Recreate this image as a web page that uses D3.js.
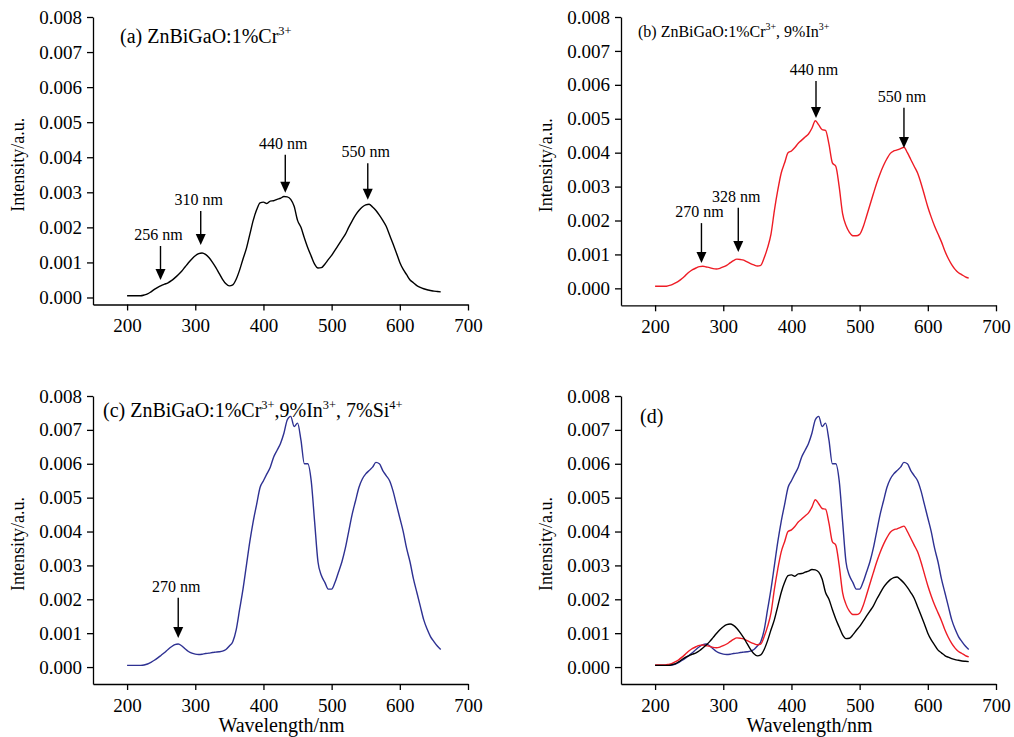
<!DOCTYPE html>
<html>
<head>
<meta charset="utf-8">
<script src="https://cdn.jsdelivr.net/npm/d3@7"></script>
<style>
  body { margin: 0; background: #fff; }
  svg { display: block; }
  text { font-family: "Liberation Serif", "Times New Roman", serif; fill: #000; }
</style>
</head>
<body>
<svg id="chart" width="1014" height="737"></svg>
<script>
// Excitation spectra, sampled every 5 nm from 200 to 660 nm
const wavelengths = d3.range(200, 661, 5);

const cr = [
  0.00005, 0.00005, 0.00005, 0.00005, 0.00005, 0.00007, 0.0001, 0.00016, 0.00023, 0.00029,
  0.00034, 0.00038, 0.00042, 0.00048, 0.00056, 0.00065, 0.00075, 0.00087, 0.00099, 0.0011,
  0.00119, 0.00125, 0.00127, 0.00123, 0.00114, 0.00101, 0.00086, 0.00069, 0.00052, 0.00039,
  0.00033, 0.00036, 0.00052, 0.00078, 0.0011, 0.0014, 0.0018, 0.0022, 0.0025, 0.0027,
  0.00272, 0.00268, 0.00275, 0.00276, 0.0028, 0.00283, 0.00288, 0.00287, 0.0028, 0.0026,
  0.0022, 0.002, 0.0017, 0.00142, 0.00118, 0.00095, 0.00084, 0.00085, 0.00095, 0.00108,
  0.0012, 0.00135, 0.0015, 0.00165, 0.0018, 0.002, 0.00218, 0.00235, 0.00248, 0.00258,
  0.00264, 0.00266, 0.00258, 0.00248, 0.00235, 0.0022, 0.00203, 0.00178, 0.00153, 0.00127,
  0.001, 0.0008, 0.00065, 0.0005, 0.00042, 0.00034, 0.00029, 0.00025, 0.00022, 0.0002,
  0.00018, 0.00017, 0.00016
];

const crIn = [
  0.00006, 0.00006, 0.00006, 0.00006, 0.00008, 0.00011, 0.00016, 0.00022, 0.0003, 0.00039,
  0.00048, 0.00055, 0.0006, 0.00064, 0.00065, 0.00063, 0.00061, 0.00058, 0.00057, 0.00059,
  0.00063, 0.00068, 0.00075, 0.00082, 0.00086, 0.00085, 0.00083, 0.00078, 0.00073, 0.00069,
  0.00066, 0.00068, 0.0009, 0.0012, 0.0016, 0.0023, 0.0029, 0.0034, 0.0037, 0.004,
  0.00405, 0.00415, 0.00428, 0.00437, 0.00446, 0.00455, 0.00472, 0.00494, 0.00482, 0.00468,
  0.00466, 0.00425, 0.0037, 0.0036, 0.003, 0.0022, 0.00185, 0.00165, 0.00155, 0.00155,
  0.00159, 0.0018, 0.00212, 0.00245, 0.00278, 0.0031, 0.00338, 0.00362, 0.00382, 0.00398,
  0.00405, 0.00408, 0.00412, 0.00416, 0.004, 0.0038, 0.0036, 0.0034, 0.0031, 0.00275,
  0.0024, 0.0021, 0.00183, 0.0016, 0.00137, 0.0011, 0.00088, 0.0007, 0.00056, 0.00046,
  0.0004, 0.00034, 0.0003
];

const crInSi = [
  0.00005, 0.00005, 0.00005, 0.00005, 0.00005, 0.00006, 0.00009, 0.00014, 0.0002, 0.00027,
  0.00035, 0.00043, 0.00052, 0.0006, 0.00066, 0.00068, 0.00063, 0.00054, 0.00046, 0.00041,
  0.00038, 0.00037, 0.00038, 0.0004, 0.00041, 0.00043, 0.00044, 0.00045, 0.00047, 0.00052,
  0.00062, 0.00075, 0.0011, 0.0017, 0.0023, 0.003, 0.0037, 0.0043, 0.0048, 0.0053,
  0.0055, 0.0057, 0.0059, 0.0062, 0.0064, 0.0066, 0.0069, 0.0073, 0.0074, 0.0071,
  0.0072, 0.0067, 0.006, 0.006, 0.0055, 0.0043, 0.0031, 0.0027, 0.0025, 0.0023,
  0.0023, 0.0025, 0.0028, 0.0031, 0.0035, 0.004, 0.0045, 0.0049, 0.0053, 0.00555,
  0.0057, 0.0058, 0.0059, 0.00604, 0.006, 0.0058, 0.00565, 0.0055, 0.0052, 0.0048,
  0.0044, 0.004, 0.0035, 0.0031, 0.0026, 0.0022, 0.0018, 0.0014, 0.00112, 0.0009,
  0.00075, 0.00062, 0.00052
];

const xTicks = [200, 300, 400, 500, 600, 700];
const yTicks = [0, 0.001, 0.002, 0.003, 0.004, 0.005, 0.006, 0.007, 0.008];

// Peak markers: [label, wavelength, label value, arrow-tip value]
const peaksA = [
  ["256 nm", 249, 0.00164, 0.0005],
  ["310 nm", 308, 0.00264, 0.0015],
  ["440 nm", 432, 0.00424, 0.00299],
  ["550 nm", 553, 0.0040, 0.00279]
];
const peaksB = [
  ["270 nm", 268, 0.0021, 0.00075],
  ["328 nm", 322, 0.00255, 0.00107],
  ["440 nm", 436, 0.00629, 0.00502],
  ["550 nm", 565, 0.0055, 0.00414]
];
const peaksC = [
  ["270 nm", 275, 0.00222, 0.00086]
];

const colors = { cr: "#000000", crIn: "#ee1c25", crInSi: "#2e3192" };

const svg = d3.select("#chart");
svg.append("rect").attr("width", 1014).attr("height", 737).attr("fill", "#fff");

const panels = [
  { left: 93, right: 468, top: 17, bottom: 304.5, yMin: -0.0002,
    series: [["cr", cr]], peaks: peaksA, xLabel: false,
    title: { x: 120, y: 43, size: 20, parts: [["(a) ZnBiGaO:1%Cr"], ["3+", 1]] } },
  { left: 621, right: 996, top: 17, bottom: 305.3, yMin: -0.0005,
    series: [["crIn", crIn]], peaks: peaksB, xLabel: false,
    title: { x: 638, y: 37, size: 16, parts: [["(b) ZnBiGaO:1%Cr"], ["3+", 1], [", 9%In"], ["3+", 1]] } },
  { left: 93, right: 468, top: 396, bottom: 684, yMin: -0.0005,
    series: [["crInSi", crInSi]], peaks: peaksC, xLabel: true,
    title: { x: 103, y: 417, size: 20, parts: [["(c) ZnBiGaO:1%Cr"], ["3+", 1], [",9%In"], ["3+", 1], [", 7%Si"], ["4+", 1]] } },
  { left: 621, right: 996, top: 396, bottom: 684, yMin: -0.0005,
    series: [["crInSi", crInSi], ["crIn", crIn], ["cr", cr]], peaks: [], xLabel: true,
    title: { x: 640, y: 423, size: 20, parts: [["(d)"]] } }
];

panels.forEach(p => {
  const x = d3.scaleLinear().domain([150, 700]).range([p.left, p.right]);
  const y = d3.scaleLinear().domain([p.yMin, 0.008]).range([p.bottom, p.top]);
  const g = svg.append("g");

  const xAxis = g.append("g")
    .attr("transform", `translate(0,${p.bottom})`)
    .call(d3.axisBottom(x).tickValues(xTicks).tickSize(6).tickSizeOuter(0).tickPadding(8));
  const yAxis = g.append("g")
    .attr("transform", `translate(${p.left},0)`)
    .call(d3.axisLeft(y).tickValues(yTicks).tickFormat(d3.format(".3f")).tickSize(6).tickSizeOuter(0).tickPadding(5));
  [xAxis, yAxis].forEach(a => {
    a.selectAll("path, line").attr("stroke", "#000").attr("stroke-width", 1.3);
    a.selectAll("text").style("font-family", "'Liberation Serif', serif").style("font-size", "19px").attr("fill", "#000");
  });
  xAxis.selectAll("text").attr("dy", "0.72em");

  // y-axis title
  g.append("text")
    .attr("transform", `translate(${p.left - 69},${(p.top + p.bottom) / 2 + 4}) rotate(-90)`)
    .attr("text-anchor", "middle")
    .style("font-size", "18px")
    .text("Intensity/a.u.");

  if (p.xLabel) {
    g.append("text")
      .attr("x", (p.left + p.right) / 2 + 1)
      .attr("y", 732)
      .attr("text-anchor", "middle")
      .style("font-size", "20px")
      .text("Wavelength/nm");
  }

  // panel title with superscripted charges
  const t = g.append("text").attr("x", p.title.x).attr("y", p.title.y).style("font-size", p.title.size + "px");
  let raised = false;
  p.title.parts.forEach(([s, sup]) => {
    const span = t.append("tspan").text(s);
    if (sup && !raised) { span.attr("dy", -p.title.size * 0.42).style("font-size", (p.title.size * 0.62) + "px"); raised = true; }
    else if (!sup && raised) { span.attr("dy", p.title.size * 0.42); raised = false; }
    else if (sup) { span.style("font-size", (p.title.size * 0.62) + "px"); }
  });

  // spectra
  const line = d3.line().x((d, i) => x(wavelengths[i])).y(d => y(d)).curve(d3.curveMonotoneX);
  p.series.forEach(([key, vals]) => {
    g.append("path")
      .datum(vals)
      .attr("d", line)
      .attr("fill", "none")
      .attr("stroke", colors[key])
      .attr("stroke-width", 1.4)
      .attr("stroke-linejoin", "round");
  });

  // peak arrows
  p.peaks.forEach(([label, wl, lv, tv]) => {
    const ax = x(wl);
    const yText = y(lv);
    const yTip = y(tv);
    g.append("text")
      .attr("x", ax - 2)
      .attr("y", yText)
      .attr("text-anchor", "middle")
      .style("font-size", "16px")
      .text(label);
    g.append("line")
      .attr("x1", ax).attr("x2", ax)
      .attr("y1", yText + 6).attr("y2", yTip - 8)
      .attr("stroke", "#000").attr("stroke-width", 1.4);
    g.append("path")
      .attr("d", `M${ax - 5},${yTip - 11}L${ax + 5},${yTip - 11}L${ax},${yTip}Z`)
      .attr("fill", "#000");
  });
});
</script>
</body>
</html>
